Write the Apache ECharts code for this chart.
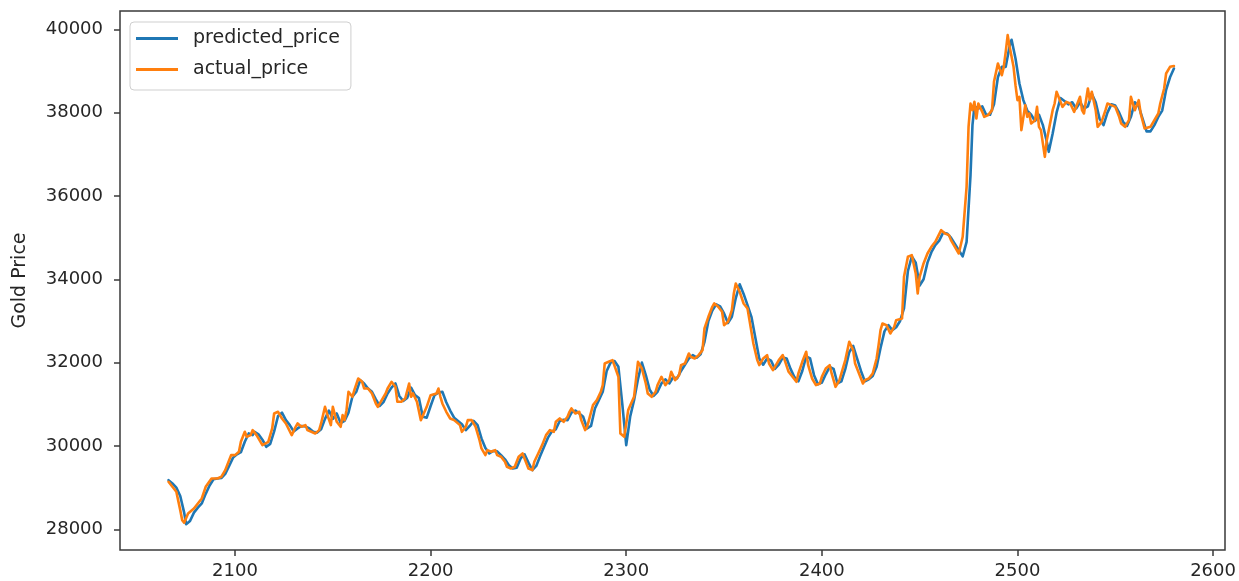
<!DOCTYPE html>
<html>
<head>
<meta charset="utf-8">
<script src="https://cdn.jsdelivr.net/npm/echarts@6/dist/echarts.min.js"></script>
<style>
  html, body { margin: 0; padding: 0; background: #fff; }
  #chart { width: 1239px; height: 581px; }
</style>
</head>
<body>
<div id="chart"></div>
<script>
// Day index and gold price for the actual series
const actualDays = [
  2066,2068,2070,2072,2073,2074,2076,2079,2080,2083,
  2085,2088,2091,2093,2095,2097,2098,2100,2102,2103,
  2105,2106,2108,2109,2111,2112,2114,2115,2117,2119,
  2120,2122,2124,2126,2127,2129,2131,2132,2134,2136,
  2137,2139,2141,2143,2144,2146,2147,2149,2150,2152,
  2154,2155,2156,2157,2158,2160,2161,2163,2165,2166,
  2168,2170,2172,2173,2175,2177,2178,2180,2182,2183,
  2185,2187,2189,2190,2191,2193,2195,2196,2198,2200,
  2201,2203,2204,2205,2206,2208,2210,2212,2213,2215,
  2216,2218,2219,2221,2223,2225,2226,2228,2229,2231,
  2233,2234,2236,2238,2239,2241,2243,2245,2247,2248,
  2250,2252,2253,2255,2257,2259,2261,2263,2264,2266,
  2268,2270,2271,2272,2274,2276,2277,2279,2280,2281,
  2283,2285,2287,2288,2289,2291,2293,2294,2296,2297,
  2299,2301,2304,2306,2308,2310,2311,2313,2315,2316,
  2318,2320,2322,2323,2325,2327,2328,2330,2332,2333,
  2335,2337,2339,2340,2342,2344,2345,2347,2349,2350,
  2352,2354,2355,2356,2358,2360,2362,2363,2365,2367,
  2368,2370,2372,2373,2375,2376,2378,2380,2381,2383,
  2385,2387,2388,2390,2392,2393,2395,2397,2399,2400,
  2402,2404,2405,2407,2409,2410,2412,2414,2416,2417,
  2419,2421,2422,2424,2426,2428,2429,2430,2431,2433,
  2435,2437,2438,2441,2442,2444,2446,2448,2449,2450,
  2452,2454,2456,2458,2459,2461,2463,2465,2466,2468,
  2470,2471,2472,2474,2475,2476,2477,2478,2479,2480,
  2482,2483,2485,2487,2488,2490,2492,2493,2494,2495,
  2496,2498,2499,2500,2501,2502,2504,2505,2506,2507,
  2509,2510,2511,2512,2514,2515,2516,2518,2519,2520,
  2522,2523,2525,2527,2529,2530,2532,2533,2534,2536,
  2537,2538,2540,2541,2543,2545,2546,2548,2550,2552,
  2553,2555,2557,2558,2560,2562,2563,2565,2566,2568,
  2570,2572,2573,2575,2576,2578,2580
];
const actualPrice = [
  29140,29020,28900,28460,28220,28160,28380,28500,28540,28740,
  29020,29220,29220,29260,29420,29660,29780,29780,29860,30100,
  30340,30220,30260,30380,30260,30180,30020,29980,30100,30420,
  30780,30820,30660,30540,30500,30260,30460,30540,30460,30500,
  30380,30340,30300,30380,30540,30940,30780,30500,30940,30580,
  30460,30740,30620,30860,31300,31180,31340,31620,31540,31380,
  31380,31260,31020,30940,31100,31260,31380,31540,31420,31060,
  31060,31140,31500,31180,31260,31060,30620,30660,30940,31220,
  31260,31260,31380,31180,31020,30820,30660,30620,30620,30500,
  30340,30460,30620,30620,30460,30140,29940,29780,29900,29860,
  29900,29780,29740,29620,29500,29460,29500,29740,29820,29700,
  29460,29420,29620,29820,30020,30260,30380,30340,30580,30660,
  30580,30700,30820,30900,30780,30820,30620,30380,30460,30500,
  30980,31100,31300,31460,31980,32020,32060,32020,31660,30300,
  30220,30860,31180,32020,31860,31500,31260,31180,31300,31460,
  31660,31460,31580,31780,31580,31700,31940,31980,32220,32140,
  32100,32180,32300,32820,33100,33340,33420,33340,33220,32900,
  32980,33260,33660,33900,33700,33420,33300,33020,32460,32060,
  31940,32100,32180,31980,31820,31900,32060,32180,32060,31780,
  31660,31540,31740,32020,32260,31940,31620,31460,31500,31660,
  31860,31940,31740,31420,31580,31740,32060,32500,32300,31980,
  31740,31500,31580,31620,31740,32100,32420,32780,32940,32900,
  32700,32860,33020,33060,34060,34540,34580,34140,33660,34060,
  34380,34620,34780,34900,34940,35180,35100,35060,34940,34780,
  34620,34580,35020,36220,37660,38220,38060,38260,37860,38220,
  38020,37900,37940,38060,38740,39180,38900,39100,39460,39860,
  39580,39100,38660,38300,38380,37580,38180,37900,37980,37740,
  37820,38140,37660,37580,36940,37340,37580,38060,38220,38500,
  38260,38140,38260,38220,38020,38140,38380,38060,37980,38580,
  38300,38500,38060,37660,37780,38060,38220,38180,38140,37900,
  37740,37660,37820,38380,38060,38300,37980,37620,37580,37660,
  37820,37980,38220,38580,38940,39100,39120
];

// Day index and gold price for the model's predictions
const predictedDays = [
  2066,2068,2070,2072,2074,2075,2077,2079,2081,2083,
  2085,2087,2089,2091,2093,2095,2097,2099,2101,2103,
  2105,2107,2109,2110,2112,2114,2116,2118,2120,2122,
  2124,2126,2128,2130,2132,2134,2136,2138,2140,2142,
  2144,2146,2148,2150,2152,2154,2156,2158,2160,2162,
  2164,2166,2168,2170,2172,2174,2176,2178,2180,2182,
  2184,2186,2188,2190,2192,2194,2196,2198,2200,2202,
  2204,2206,2208,2210,2212,2214,2216,2218,2220,2222,
  2224,2226,2228,2230,2232,2234,2236,2238,2240,2242,
  2244,2246,2248,2250,2252,2254,2256,2258,2260,2262,
  2264,2266,2268,2270,2272,2274,2276,2278,2280,2282,
  2284,2286,2288,2290,2292,2294,2296,2298,2300,2302,
  2304,2306,2308,2310,2312,2314,2316,2318,2320,2322,
  2324,2326,2328,2330,2332,2334,2336,2338,2340,2342,
  2344,2346,2348,2350,2352,2354,2356,2358,2360,2362,
  2364,2366,2368,2370,2372,2374,2376,2378,2380,2382,
  2384,2386,2388,2390,2392,2394,2396,2398,2400,2402,
  2404,2406,2408,2410,2412,2414,2416,2418,2420,2422,
  2424,2426,2428,2430,2432,2434,2436,2438,2440,2442,
  2444,2446,2448,2450,2452,2454,2456,2458,2460,2462,
  2464,2466,2468,2470,2472,2474,2476,2477,2478,2480,
  2482,2484,2486,2488,2490,2492,2494,2496,2497,2499,
  2501,2503,2505,2507,2509,2511,2513,2515,2516,2518,
  2520,2522,2524,2526,2528,2530,2532,2534,2536,2538,
  2540,2542,2544,2546,2548,2550,2552,2554,2556,2558,
  2560,2562,2564,2566,2568,2570,2572,2574,2576,2578,2580
];
const predictedPrice = [
  29180,29100,29000,28800,28400,28120,28200,28400,28520,28620,
  28850,29050,29200,29220,29230,29330,29520,29720,29800,29850,
  30100,30300,30260,30340,30280,30150,29980,30050,30350,30720,
  30800,30620,30500,30350,30420,30480,30470,30420,30340,30320,
  30400,30650,30850,30650,30780,30550,30600,30800,31180,31300,
  31580,31500,31380,31300,31120,30960,31060,31260,31400,31500,
  31200,31080,31150,31400,31220,31150,30700,30680,30960,31220,
  31280,31300,31050,30850,30680,30600,30520,30380,30480,30600,
  30500,30180,29950,29820,29880,29870,29780,29680,29540,29460,
  29480,29700,29800,29600,29420,29520,29760,29980,30200,30350,
  30400,30600,30630,30620,30800,30850,30780,30700,30420,30480,
  30900,31100,31300,31800,32000,32040,31900,31000,30020,30700,
  31100,31600,32000,31700,31350,31200,31300,31500,31600,31500,
  31650,31620,31800,31950,32100,32180,32120,32200,32500,33000,
  33250,33400,33350,33180,32950,33100,33550,33880,33650,33380,
  33100,32600,32100,31950,32100,32050,31850,31950,32120,32100,
  31850,31650,31550,31800,32150,32100,31700,31480,31520,31720,
  31900,31850,31500,31550,31850,32250,32400,32100,31800,31550,
  31600,31680,31900,32350,32750,32900,32780,32850,33000,33300,
  34200,34550,34400,33850,34000,34400,34650,34820,34930,35120,
  35100,35000,34850,34700,34550,34900,36500,37700,38150,38100,
  38150,37950,37950,38200,38850,39100,39100,39600,39750,39300,
  38700,38300,38050,37950,37800,37950,37700,37300,37060,37500,
  38000,38350,38280,38200,38250,38100,38250,38100,38150,38450,
  38250,37850,37700,38000,38200,38170,38000,37780,37680,37900,
  38250,38150,37850,37550,37550,37700,37900,38050,38550,38850,39060
];

// Axis tick positions
const xTicks = [2100, 2200, 2300, 2400, 2500, 2600];
const yTicks = [28000, 30000, 32000, 34000, 36000, 38000, 40000];

const FONT = 'DejaVu Sans';
const INK = '#262626';
const FRAME = '#3a3a3a';

function pairs(xs, ys) {
  const n = Math.min(xs.length, ys.length);
  const out = [];
  for (let i = 0; i < n; i++) out.push([xs[i], ys[i]]);
  return out;
}

const plainNumber = v => String(Math.round(v));

const chart = echarts.init(document.getElementById('chart'), null, { renderer: 'canvas' });

chart.setOption({
  animation: false,
  backgroundColor: '#ffffff',
  grid: {
    left: 120, right: 14, top: 11, bottom: 31,
    show: true,
    borderColor: FRAME,
    borderWidth: 1.5,
    backgroundColor: 'transparent'
  },
  legend: {
    orient: 'vertical',
    left: 130,
    top: 22,
    padding: [7, 11, 11, 6],
    itemGap: 12,
    itemWidth: 42,
    itemHeight: 3,
    icon: 'rect',
    backgroundColor: 'rgba(255,255,255,0.8)',
    borderColor: '#cfcfcf',
    borderWidth: 1,
    borderRadius: 4,
    textStyle: {
      fontFamily: FONT,
      fontSize: 19,
      lineHeight: 19,
      color: INK,
      padding: [0, 0, 0, 10]
    },
    data: ['predicted_price', 'actual_price']
  },
  xAxis: {
    type: 'value',
    min: 2041.2,
    max: 2606.1,
    axisLine: { show: false },
    splitLine: { show: false },
    axisTick: {
      show: true,
      length: 6,
      customValues: xTicks,
      lineStyle: { color: FRAME, width: 1.5 }
    },
    axisLabel: {
      customValues: xTicks,
      formatter: plainNumber,
      margin: 12,
      fontFamily: FONT,
      fontSize: 18,
      color: INK
    }
  },
  yAxis: {
    type: 'value',
    min: 27503,
    max: 40440,
    name: 'Gold Price',
    nameLocation: 'middle',
    nameRotate: 90,
    nameGap: 90,
    nameTextStyle: { fontFamily: FONT, fontSize: 19, color: INK },
    axisLine: { show: false },
    splitLine: { show: false },
    axisTick: {
      show: true,
      length: 6,
      customValues: yTicks,
      lineStyle: { color: FRAME, width: 1.5 }
    },
    axisLabel: {
      customValues: yTicks,
      formatter: plainNumber,
      margin: 17,
      fontFamily: FONT,
      fontSize: 18,
      color: INK
    }
  },
  series: [
    {
      name: 'predicted_price',
      type: 'line',
      data: pairs(predictedDays, predictedPrice),
      showSymbol: false,
      symbol: 'none',
      color: '#1f77b4',
      lineStyle: { width: 2.6, color: '#1f77b4', join: 'round', cap: 'round' },
      z: 2
    },
    {
      name: 'actual_price',
      type: 'line',
      data: pairs(actualDays, actualPrice),
      showSymbol: false,
      symbol: 'none',
      color: '#ff7f0e',
      lineStyle: { width: 2.6, color: '#ff7f0e', join: 'round', cap: 'round' },
      z: 3
    }
  ]
});
</script>
</body>
</html>
